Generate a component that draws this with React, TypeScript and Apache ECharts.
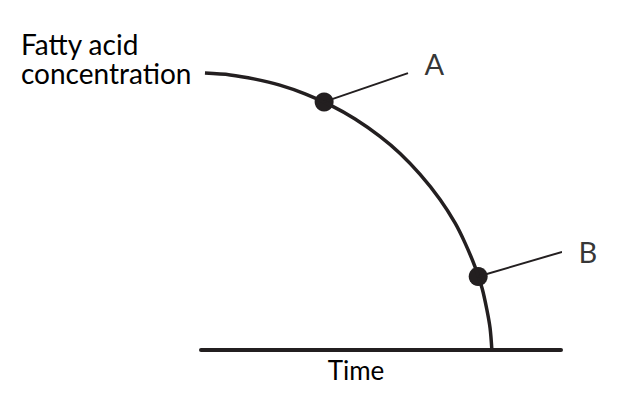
import React, { useEffect, useRef } from "react";
import * as echarts from "echarts";

// Curve of fatty acid concentration over time
const curveTime = [0.11, 0.81, 1.5, 2.19, 2.89, 3.58, 4.28, 4.97, 5.53, 6.08, 6.64, 7.06, 7.33, 7.61, 7.81, 7.94, 8.03, 8.08];
const curveConc = [9.23, 9.17, 9.03, 8.83, 8.54, 8.17, 7.7, 7.12, 6.55, 5.86, 5.02, 4.23, 3.58, 2.78, 2.05, 1.35, 0.73, 0];

// Marked points
const pointNames = ["A", "B"];
const pointTime = [3.42, 7.7];
const pointConc = [8.27, 2.45];

// Leader line end points
const leaderEndTime = [5.75, 10.03];
const leaderEndConc = [9.23, 3.27];

const yTitle = "Fatty acid\nconcentration";
const xTitle = "Time";

const INK = "#231f20";
const FONT = "Lato, 'Open Sans', sans-serif";

export default function App() {
  const ref = useRef<HTMLDivElement>(null);

  useEffect(() => {
    if (!ref.current) return;
    const chart = echarts.init(ref.current, null, { renderer: "svg" });

    const leaderSeries = pointNames.map((name, i) => ({
      type: "line",
      name: "leader " + name,
      clip: false,
      symbol: "none",
      lineStyle: { color: INK, width: 2 },
      silent: true,
      data: [
        [pointTime[i], pointConc[i]],
        [leaderEndTime[i], leaderEndConc[i]],
      ],
    }));

    chart.setOption({
      animation: false,
      grid: { left: 201, top: 50, width: 360, height: 300 },
      xAxis: {
        type: "value",
        min: 0,
        max: 10,
        name: xTitle,
        nameLocation: "middle",
        nameGap: 7,
        nameTextStyle: {
          color: "#000",
          fontSize: 26,
          fontFamily: FONT,
          verticalAlign: "top",
          padding: [0, 50, 0, 0],
        },
        axisLine: { show: true, lineStyle: { color: INK, width: 4 } },
        axisTick: { show: false },
        axisLabel: { show: false },
        splitLine: { show: false },
      },
      yAxis: {
        type: "value",
        min: 0,
        max: 10,
        show: false,
        splitLine: { show: false },
      },
      graphic: [
        {
          type: "text",
          left: 21,
          top: 29,
          style: {
            text: yTitle,
            fill: "#000",
            fontSize: 28,
            lineHeight: 29,
            fontFamily: FONT,
            align: "left",
          },
        },
      ],
      series: [
        {
          type: "line",
          name: "Fatty acid concentration",
          smooth: 0.3,
          clip: false,
          symbol: "none",
          lineStyle: { color: INK, width: 3.5 },
          data: curveTime.map((t, i) => [t, curveConc[i]]),
        },
        ...leaderSeries,
        {
          type: "scatter",
          name: "labels",
          clip: false,
          symbolSize: 1,
          silent: true,
          itemStyle: { color: "rgba(0,0,0,0)" },
          data: pointNames.map((n, i) => ({
            name: n,
            value: [leaderEndTime[i], leaderEndConc[i]],
            label: {
              show: true,
              formatter: n,
              position: "right",
              distance: 16,
              offset: [0, i === 0 ? -10 : 0],
              color: "#000",
              fontSize: 29,
              fontFamily: FONT,
            },
          })),
        },
        {
          type: "scatter",
          name: "points",
          symbolSize: 19,
          itemStyle: { color: INK, opacity: 1 },
          data: pointTime.map((t, i) => ({ name: pointNames[i], value: [t, pointConc[i]] })),
        },
      ],
    });

    return () => chart.dispose();
  }, []);

  return (
    <div
      ref={ref}
      style={{ position: "fixed", left: 0, top: 0, width: 618, height: 418, background: "#fff" }}
    />
  );
}
